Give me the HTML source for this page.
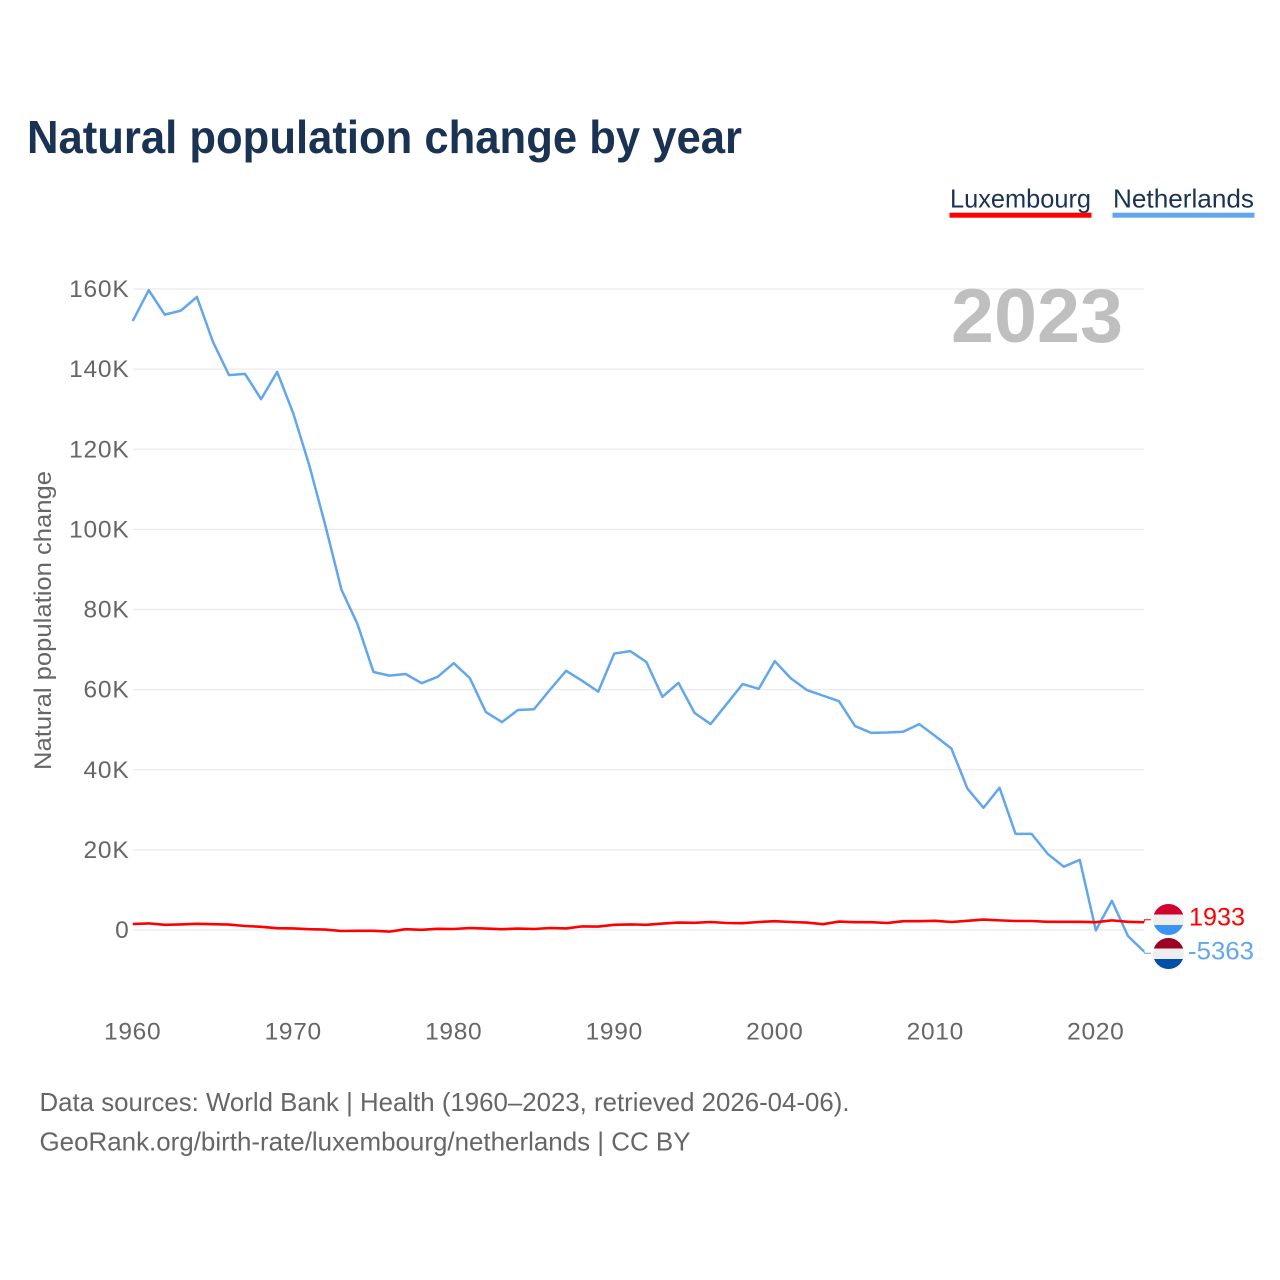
<!DOCTYPE html>
<html lang="en">
<head>
<meta charset="utf-8">
<title>Natural population change by year</title>
<style>
html,body{margin:0;padding:0;background:#fff;}
svg{display:block;font-family:"Liberation Sans",sans-serif;}
</style>
</head>
<body>
<svg id="chart" width="1280" height="1280" viewBox="0 0 1280 1280" xmlns="http://www.w3.org/2000/svg">
  <defs>
    <clipPath id="flag-clip-lu"><circle cx="1168.5" cy="919.5" r="15.5"/></clipPath>
    <clipPath id="flag-clip-nl"><circle cx="1168.5" cy="953.5" r="15.5"/></clipPath>
  </defs>
  <rect width="1280" height="1280" fill="#fff"/>
  <text x="27" y="153" font-size="46" font-weight="700" fill="#1a3353" textLength="715" lengthAdjust="spacingAndGlyphs">Natural population change by year</text>

  <g>
    <text x="950" y="207.5" font-size="26" fill="#1a3353" textLength="141" lengthAdjust="spacingAndGlyphs">Luxembourg</text>
    <rect x="949.5" y="212.7" width="142" height="5" fill="#ff0000"/>
  </g>
  <g>
    <text x="1113" y="207.5" font-size="26" fill="#1a3353" textLength="141" lengthAdjust="spacingAndGlyphs">Netherlands</text>
    <rect x="1112.5" y="212.7" width="142" height="5" fill="#62a6ec"/>
  </g>

  <g id="grid"></g>
  <g id="y-ticks"></g>
  <g id="x-ticks"></g>

  <text x="951" y="342" font-size="76" font-weight="700" fill="#bfbfbf" textLength="172" lengthAdjust="spacingAndGlyphs">2023</text>

  <text transform="translate(51 770) rotate(-90)" font-size="24.5" fill="#666" textLength="299" lengthAdjust="spacingAndGlyphs">Natural population change</text>

  <path id="line-netherlands" fill="none" stroke="#62a6ec" stroke-width="2.5" stroke-linejoin="round"/>
  <path id="line-luxembourg" fill="none" stroke="#ff0000" stroke-width="2.6" stroke-linejoin="round"/>
  <path id="connector-luxembourg" fill="none" stroke="#ff0000" stroke-width="1"/>
  <path id="connector-netherlands" fill="none" stroke="#62a6ec" stroke-width="1"/>

  <g clip-path="url(#flag-clip-lu)">
    <rect x="1152" y="904" width="33" height="11" fill="#d2002e"/>
    <rect x="1152" y="914.5" width="33" height="10.5" fill="#eeeeee"/>
    <rect x="1152" y="925" width="33" height="11" fill="#3b94f5"/>
  </g>
  <g clip-path="url(#flag-clip-nl)">
    <rect x="1152" y="938" width="33" height="11" fill="#9c0022"/>
    <rect x="1152" y="948.5" width="33" height="10.5" fill="#eeeeee"/>
    <rect x="1152" y="959" width="33" height="11" fill="#0050a8"/>
  </g>
  <text id="value-luxembourg" x="1189" y="925.5" font-size="25" fill="#ff0000" textLength="56" lengthAdjust="spacingAndGlyphs"></text>
  <text id="value-netherlands" x="1188" y="959.5" font-size="25" fill="#62a6ec" textLength="66" lengthAdjust="spacingAndGlyphs"></text>

  <text x="39.5" y="1111" font-size="26" fill="#666" textLength="810" lengthAdjust="spacingAndGlyphs">Data sources: World Bank | Health (1960–2023, retrieved 2026-04-06).</text>
  <text x="39.5" y="1150.5" font-size="26" fill="#666" textLength="651" lengthAdjust="spacingAndGlyphs">GeoRank.org/birth-rate/luxembourg/netherlands | CC BY</text>
</svg>
<script>
const startYear = 1960;
const netherlands = [152000,159700,153600,154600,158000,146800,138500,138800,132500,139300,
  129000,116000,101000,85000,76400,64400,63500,63900,61600,63200,
  66600,62900,54400,51900,54900,55100,60000,64700,62200,59500,
  69000,69600,66900,58200,61700,54200,51400,56400,61400,60200,
  67100,62800,59900,58500,57100,50900,49200,49300,49500,51400,
  48400,45300,35300,30500,35500,24000,24000,19000,15800,17500,
  -100,7300,-1500,-5363];
const luxembourg = [1500,1650,1300,1400,1550,1450,1350,1000,800,450,
  400,200,100,-250,-200,-200,-400,200,50,300,
  250,500,350,200,350,250,500,400,900,850,
  1300,1400,1300,1600,1850,1800,2000,1750,1700,2000,
  2200,2000,1850,1450,2100,1950,1950,1750,2200,2200,
  2300,2000,2300,2600,2400,2250,2250,2050,2050,2050,
  1950,2400,2050,1933];
const yTickValues = [0,20000,40000,60000,80000,100000,120000,140000,160000];
const yTickLabels = ['0','20K','40K','60K','80K','100K','120K','140K','160K'];
const xTickYears = [1960,1970,1980,1990,2000,2010,2020];

const SVG_NS = 'http://www.w3.org/2000/svg';
function xScale(year){ return 132.7 + (year - 1960) * (1144 - 132.7) / 63; }
function yScale(v){ return 930 - v * (930 - 289) / 160000; }
function linePath(values){
  return values.map(function(v, i){
    return (i ? 'L' : 'M') + xScale(startYear + i).toFixed(2) + ' ' + yScale(v).toFixed(2);
  }).join('');
}

const grid = document.getElementById('grid');
const yTicks = document.getElementById('y-ticks');
yTickValues.forEach(function(v, i){
  const gl = document.createElementNS(SVG_NS, 'line');
  
  
  gl.setAttribute('x1', xScale(1960));
  gl.setAttribute('x2', xScale(2023));
  gl.setAttribute('y1', yScale(v));
  gl.setAttribute('y2', yScale(v));
  gl.setAttribute('stroke', '#ebebeb');
  gl.setAttribute('stroke-width', '1.2');
  grid.appendChild(gl);

  const t = document.createElementNS(SVG_NS, 'text');
  
  
  t.setAttribute('x', 129.5);
  t.setAttribute('y', yScale(v) + 8);
  t.setAttribute('text-anchor', 'end');
  t.setAttribute('font-size', '24.5');
  t.setAttribute('letter-spacing', '0.8');
  t.setAttribute('fill', '#666');
  t.textContent = yTickLabels[i];
  yTicks.appendChild(t);
});

const xTicks = document.getElementById('x-ticks');
xTickYears.forEach(function(y){
  const t = document.createElementNS(SVG_NS, 'text');
  
  
  t.setAttribute('x', xScale(y));
  t.setAttribute('y', 1039.5);
  t.setAttribute('text-anchor', 'middle');
  t.setAttribute('font-size', '24.5');
  t.setAttribute('letter-spacing', '0.7');
  t.setAttribute('fill', '#666');
  t.textContent = String(y);
  xTicks.appendChild(t);
});

document.getElementById('line-netherlands').setAttribute('d', linePath(netherlands));
document.getElementById('line-luxembourg').setAttribute('d', linePath(luxembourg));

const lastNl = netherlands[netherlands.length - 1];
const lastLu = luxembourg[luxembourg.length - 1];
const connectorEnd = xScale(2023) + 7;
document.getElementById('connector-luxembourg').setAttribute('d',
  'M' + xScale(2023) + ' ' + yScale(lastLu) + 'L' + (xScale(2023) + 0.5) + ' 919.7L' + connectorEnd + ' 919.7');
document.getElementById('connector-netherlands').setAttribute('d',
  'M' + xScale(2023) + ' ' + yScale(lastNl) + 'L' + (xScale(2023) + 0.5) + ' 953.3L' + connectorEnd + ' 953.3');
document.getElementById('value-luxembourg').textContent = String(lastLu);
document.getElementById('value-netherlands').textContent = String(lastNl);
</script>
</body>
</html>
